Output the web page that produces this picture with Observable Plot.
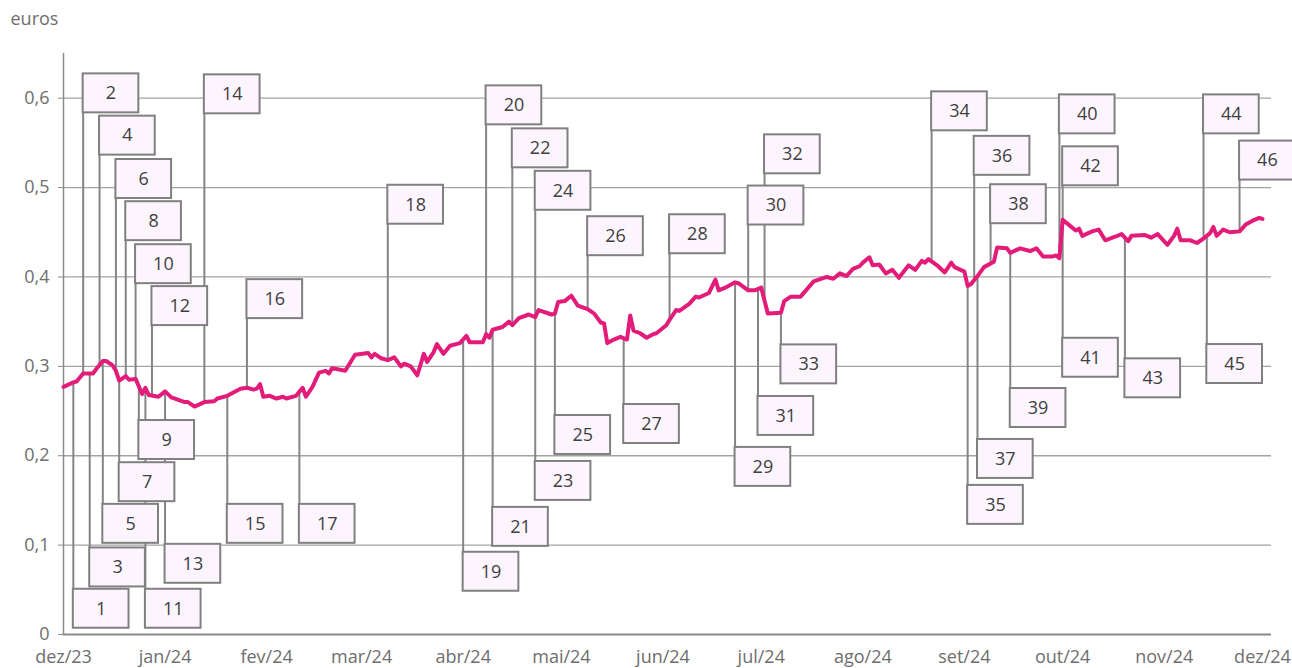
<!DOCTYPE html>
<html>
<head>
<meta charset="utf-8">
<script src="https://cdn.jsdelivr.net/npm/d3@7"></script>
<script src="https://cdn.jsdelivr.net/npm/@observablehq/plot@0.6"></script>
<style>
  html, body { margin: 0; padding: 0; background: #ffffff; }
  #chart { width: 1292px; height: 668px; }
</style>
</head>
<body>
<div id="chart"></div>
<script>
// ---- Series: daily price (euros) ----
const seriesDates = [
  "2023-12-01","2023-12-04","2023-12-05","2023-12-07","2023-12-10","2023-12-11","2023-12-13","2023-12-14",
  "2023-12-16","2023-12-17","2023-12-18","2023-12-20","2023-12-21","2023-12-23","2023-12-25","2023-12-26",
  "2023-12-27","2023-12-30","2024-01-01","2024-01-03","2024-01-04","2024-01-07","2024-01-08","2024-01-10",
  "2024-01-13","2024-01-16","2024-01-17","2024-01-20","2024-01-22","2024-01-24","2024-01-26","2024-01-28",
  "2024-01-29","2024-01-30","2024-01-31","2024-02-02","2024-02-04","2024-02-06","2024-02-07","2024-02-10",
  "2024-02-12","2024-02-13","2024-02-15","2024-02-17","2024-02-19","2024-02-20","2024-02-21","2024-02-25",
  "2024-02-28","2024-03-03","2024-03-04","2024-03-05","2024-03-07","2024-03-09","2024-03-11","2024-03-13",
  "2024-03-14","2024-03-16","2024-03-18","2024-03-20","2024-03-21","2024-03-23","2024-03-24","2024-03-26",
  "2024-03-28","2024-03-31","2024-04-02","2024-04-03","2024-04-07","2024-04-08","2024-04-09","2024-04-10",
  "2024-04-13","2024-04-15","2024-04-16","2024-04-18","2024-04-21","2024-04-23","2024-04-24","2024-04-28",
  "2024-04-29","2024-04-30","2024-05-02","2024-05-04","2024-05-06","2024-05-09","2024-05-11","2024-05-13",
  "2024-05-14","2024-05-15","2024-05-17","2024-05-19","2024-05-21","2024-05-22","2024-05-23","2024-05-25",
  "2024-05-27","2024-05-29","2024-05-30","2024-06-02","2024-06-03","2024-06-05","2024-06-06","2024-06-09",
  "2024-06-11","2024-06-12","2024-06-15","2024-06-17","2024-06-18","2024-06-20","2024-06-23","2024-06-24",
  "2024-06-27","2024-06-29","2024-07-01","2024-07-03","2024-07-07","2024-07-08","2024-07-10","2024-07-13",
  "2024-07-17","2024-07-21","2024-07-23","2024-07-25","2024-07-27","2024-07-29","2024-07-31","2024-08-01",
  "2024-08-03","2024-08-04","2024-08-06","2024-08-08","2024-08-10","2024-08-12","2024-08-15","2024-08-17",
  "2024-08-19","2024-08-20","2024-08-21","2024-08-24","2024-08-26","2024-08-28","2024-08-29","2024-09-01",
  "2024-09-02","2024-09-03","2024-09-05","2024-09-07","2024-09-10","2024-09-11","2024-09-14","2024-09-15",
  "2024-09-18","2024-09-21","2024-09-23","2024-09-25","2024-09-28","2024-09-29","2024-09-30","2024-10-01",
  "2024-10-03","2024-10-05","2024-10-06","2024-10-07","2024-10-10","2024-10-12","2024-10-14","2024-10-17",
  "2024-10-19","2024-10-21","2024-10-22","2024-10-26","2024-10-28","2024-10-30","2024-11-02","2024-11-04",
  "2024-11-05","2024-11-06","2024-11-09","2024-11-11","2024-11-13","2024-11-15","2024-11-16","2024-11-17",
  "2024-11-19","2024-11-21","2024-11-24","2024-11-26","2024-11-28","2024-11-30","2024-12-01"
];
const seriesValues = [
  0.277,0.282,0.283,0.292,0.292,0.297,0.306,0.306,
  0.301,0.295,0.284,0.289,0.285,0.286,0.269,0.276,
  0.268,0.266,0.272,0.265,0.264,0.260,0.260,0.255,
  0.260,0.261,0.264,0.267,0.271,0.275,0.276,0.274,
  0.275,0.280,0.266,0.267,0.264,0.266,0.264,0.267,
  0.276,0.266,0.277,0.293,0.295,0.292,0.298,0.295,
  0.313,0.315,0.310,0.314,0.309,0.307,0.310,0.300,
  0.303,0.300,0.290,0.314,0.305,0.316,0.325,0.314,
  0.323,0.326,0.334,0.327,0.327,0.336,0.332,0.341,
  0.344,0.350,0.346,0.354,0.358,0.355,0.363,0.358,
  0.359,0.372,0.373,0.379,0.368,0.364,0.359,0.349,
  0.348,0.326,0.330,0.333,0.330,0.357,0.340,0.337,
  0.332,0.336,0.337,0.346,0.352,0.363,0.362,0.370,
  0.378,0.377,0.382,0.397,0.385,0.388,0.394,0.393,
  0.385,0.385,0.388,0.359,0.360,0.373,0.378,0.378,
  0.395,0.400,0.398,0.404,0.401,0.409,0.412,0.416,
  0.422,0.413,0.414,0.404,0.408,0.399,0.413,0.408,
  0.418,0.416,0.420,0.412,0.405,0.416,0.411,0.406,
  0.390,0.392,0.401,0.411,0.417,0.433,0.432,0.427,
  0.432,0.429,0.432,0.423,0.423,0.424,0.421,0.464,
  0.458,0.452,0.454,0.446,0.451,0.453,0.441,0.445,
  0.448,0.440,0.446,0.447,0.444,0.448,0.436,0.446,
  0.454,0.441,0.441,0.438,0.443,0.449,0.456,0.446,
  0.453,0.450,0.451,0.459,0.463,0.466,0.465
];

// ---- Numbered annotations: label, date of leader, level of box edge (euros) ----
const annLabels = [
  "1","2","3","4","5","6","7","8","9","10","11","12","13","14","15","16","17","18","19","20","21","22","23",
  "24","25","26","27","28","29","30","31","32","33","34","35","36","37","38","39","40","41","42","43","44","45","46"
];
const annDates = [
  "2023-12-04","2023-12-07","2023-12-09","2023-12-12","2023-12-13","2023-12-17","2023-12-18","2023-12-20",
  "2023-12-24","2023-12-23","2023-12-26","2023-12-28","2024-01-01","2024-01-13","2024-01-20","2024-01-26",
  "2024-02-11","2024-03-09","2024-04-01","2024-04-08","2024-04-10","2024-04-16","2024-04-23","2024-04-23",
  "2024-04-29","2024-05-09","2024-05-20","2024-06-03","2024-06-23","2024-06-27","2024-06-30","2024-07-02",
  "2024-07-07","2024-08-22","2024-09-02","2024-09-04","2024-09-05","2024-09-09","2024-09-15","2024-09-30",
  "2024-10-01","2024-10-01","2024-10-20","2024-11-13","2024-11-14","2024-11-24"
];
const annLevels = [
  0.0506,0.5836,0.0968,0.5363,0.1456,0.4878,0.1922,0.4406,
  0.2394,0.3925,0.0506,0.3456,0.1009,0.5825,0.1456,0.3534,
  0.1456,0.4590,0.0920,0.5702,0.1422,0.5221,0.1936,0.4746,
  0.2450,0.4238,0.2573,0.4260,0.2093,0.4581,0.2663,0.5154,
  0.3240,0.5635,0.1668,0.5137,0.2182,0.4596,0.2752,0.5601,
  0.3314,0.5020,0.3084,0.5601,0.3244,0.5084
];

// ---- Axes ----
const yTicks = [0, 0.1, 0.2, 0.3, 0.4, 0.5, 0.6];
const monthTicks = ["2023-12-01","2024-01-01","2024-02-01","2024-03-01","2024-04-01","2024-05-01",
                    "2024-06-01","2024-07-01","2024-08-01","2024-09-01","2024-10-01","2024-11-01","2024-12-01"];
const monthLabels = ["dez/23","jan/24","fev/24","mar/24","abr/24","mai/24","jun/24",
                     "jul/24","ago/24","set/24","out/24","nov/24","dez/24"];

// ---- Build tables ----
const parse = d3.utcParse("%Y-%m-%d");
const series = seriesDates.map((d, i) => ({date: parse(d), value: seriesValues[i]}));
const bis = d3.bisector(d => d.date).left;
function valueAt(date) {
  const i = bis(series, date);
  if (i <= 0) return series[0].value;
  if (i >= series.length) return series[series.length - 1].value;
  const a = series[i - 1], b = series[i];
  const t = (date - a.date) / (b.date - a.date);
  return a.value + t * (b.value - a.value);
}
const BOX_DAYS = 17;     // box width in days
const BOX_H = 0.0436;    // box height in euros
const ann = annLabels.map((lab, i) => {
  const date = parse(annDates[i]);
  const lineV = valueAt(date);
  const level = annLevels[i];
  const up = level > lineV;
  return {
    label: lab, date, lineV, level,
    x2: d3.utcDay.offset(date, BOX_DAYS),
    xm: new Date(+date + BOX_DAYS / 2 * 864e5),
    y1: up ? level : level - BOX_H,
    y2: up ? level + BOX_H : level,
    ym: up ? level + BOX_H / 2 : level - BOX_H / 2
  };
});
const tickDates = monthTicks.map(parse);
const xStart = parse("2023-12-01");
const xEnd = new Date(+parse("2024-12-03") + 0.75 * 864e5);

const gray = "#8a8a8a";
const labelColor = "#6e6e6e";

const chart = Plot.plot({
  width: 1292,
  height: 668,
  marginLeft: 63,
  marginRight: 21,
  marginTop: 53,
  marginBottom: 34,
  style: {fontFamily: "'Open Sans', 'Noto Sans', sans-serif", background: "#ffffff", overflow: "visible"},
  x: {type: "utc", domain: [xStart, xEnd]},
  y: {domain: [0, 0.65]},
  marks: [
    Plot.ruleY(yTicks.filter(v => v > 0), {stroke: "#a3a3a3", strokeWidth: 1.3}),
    Plot.ruleX(ann, {x: "date", y1: "lineV", y2: "level", stroke: "#858585", strokeWidth: 2}),
    Plot.ruleX([xStart], {y1: 0, y2: 0.65, stroke: gray, strokeWidth: 1.5}),
    Plot.ruleY([0], {stroke: gray, strokeWidth: 2}),
    Plot.line(series, {x: "date", y: "value", stroke: "#e31c79", strokeWidth: 4, strokeLinejoin: "round"}),
    Plot.rect(ann, {x1: "date", x2: "x2", y1: "y1", y2: "y2", fill: "#fdf5fd", stroke: "#808080", strokeWidth: 2}),
    Plot.text(ann, {x: "xm", y: "ym", text: "label", fontSize: 18, fill: "#3f3f3f"}),
    Plot.axisY({ticks: yTicks, tickSize: 5, tickPadding: 9, fontSize: 18, color: labelColor,
      stroke: gray, label: null,
      tickFormat: d => d === 0 ? "0" : d3.format(".1f")(d).replace(".", ",")}),
    Plot.axisX({ticks: tickDates, tickSize: 0, tickPadding: 16, fontSize: 18, color: labelColor, label: null,
      tickFormat: d => monthLabels[tickDates.findIndex(t => +t === +d)]}),
    Plot.text(["euros"], {frameAnchor: "top-left", dx: -53, dy: -34, textAnchor: "start",
      lineAnchor: "middle", fontSize: 18, fill: labelColor})
  ]
});
document.getElementById("chart").appendChild(chart);
</script>
</body>
</html>
